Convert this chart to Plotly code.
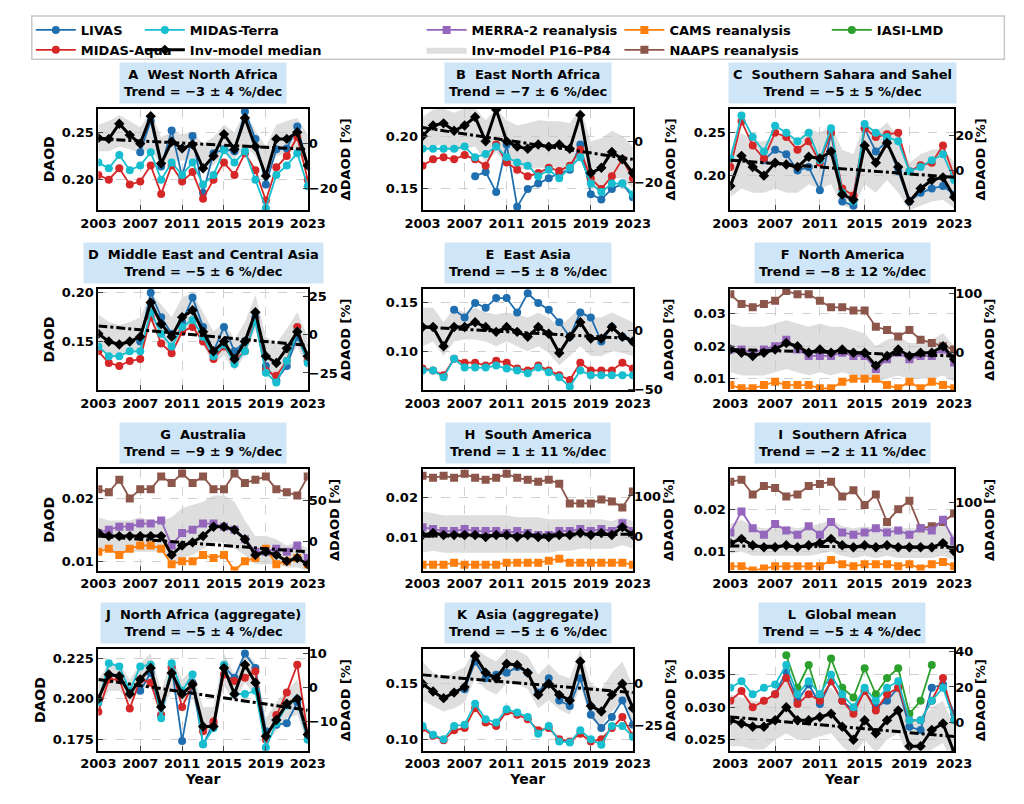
import plotly.graph_objects as go

years = list(range(2003, 2024))
N = None

panel_ids = ["A","B","C","D","E","F","G","H","I","J","K","L"]
panel_names = ["West North Africa","East North Africa","Southern Sahara and Sahel",
               "Middle East and Central Asia","East Asia","North America",
               "Australia","South America","Southern Africa",
               "North Africa (aggregate)","Asia (aggregate)","Global mean"]
trend_text = ["−3 ± 4","−7 ± 6","−5 ± 5","−5 ± 6","−5 ± 8","−8 ± 12",
              "−9 ± 9","1 ± 11","−2 ± 11","−5 ± 4","−5 ± 6","−5 ± 4"]

median = {
 "A":[.244,.243,.259,.247,.238,.267,.217,.240,.233,.237,.212,.225,.248,.232,.265,.235,.204,.243,.243,.250,.215],
 "B":[.200,.210,.212,.205,.210,.218,.195,.225,.195,.190,.188,.192,.190,.192,.188,.220,.165,.170,.185,.178,.165],
 "C":[.188,.223,.210,.200,.215,.213,.210,.222,.220,.228,.178,.172,.235,.215,.238,.210,.170,.185,.195,.198,.175],
 "D":[.158,.150,.147,.150,.155,.190,.168,.155,.175,.182,.160,.140,.150,.132,.150,.180,.135,.128,.143,.160,.135],
 "E":[.125,.125,.105,.125,.125,.130,.125,.120,.125,.120,.115,.125,.118,.098,.115,.130,.113,.113,.125,.115,.110],
 "F":[.019,.018,.017,.018,.019,.021,.020,.018,.019,.018,.019,.018,.018,.014,.017,.019,.017,.018,.018,.020,.016],
 "G":[.0145,.014,.014,.014,.014,.014,.014,.011,.0125,.013,.014,.0155,.0155,.015,.0135,.011,.0115,.011,.010,.0105,.0095],
 "H":[.0105,.011,.0105,.0105,.0105,.0105,.010,.0105,.0105,.010,.0105,.010,.010,.0105,.0105,.011,.0105,.011,.0105,.0125,.0105],
 "I":[.012,.013,.0115,.011,.011,.0115,.011,.0115,.012,.013,.0115,.011,.0115,.011,.0115,.011,.011,.011,.011,.012,.010],
 "J":[.200,.215,.214,.203,.212,.219,.195,.216,.203,.209,.183,.183,.219,.203,.221,.210,.177,.187,.197,.200,.178],
 "K":[.150,.143,.137,.142,.147,.175,.160,.155,.168,.167,.160,.140,.150,.140,.135,.170,.130,.125,.140,.150,.128],
 "L":[.028,.0275,.027,.027,.028,.030,.028,.028,.0285,.029,.027,.025,.028,.026,.028,.0295,.024,.024,.0265,.0275,.023],
}
band_lo = {
 "A":[.230,.230,.235,.232,.228,.232,.215,.220,.220,.222,.210,.215,.228,.222,.235,.225,.205,.225,.228,.232,.215],
 "B":[.185,.190,.192,.185,.188,.190,.175,.185,.172,.170,.168,.170,.170,.170,.168,.180,.150,.152,.160,.160,.150],
 "C":[.175,.185,.180,.180,.185,.180,.180,.190,.185,.190,.165,.162,.190,.180,.195,.180,.160,.165,.170,.172,.162],
 "D":[.143,.137,.135,.137,.141,.170,.152,.141,.158,.165,.146,.127,.136,.120,.136,.162,.122,.115,.129,.145,.122],
 "E":[.105,.110,.095,.110,.112,.112,.110,.105,.110,.105,.100,.105,.098,.085,.095,.105,.095,.095,.100,.098,.095],
 "F":[.012,.011,.011,.011,.012,.013,.012,.011,.012,.011,.012,.011,.010,.009,.010,.011,.010,.010,.010,.011,.009],
 "G":[.012,.0115,.0115,.0115,.0115,.0115,.0115,.0095,.0105,.011,.012,.013,.013,.012,.011,.0095,.0095,.0095,.009,.009,.0085],
 "H":[.006,.0065,.006,.006,.006,.006,.006,.006,.006,.006,.006,.006,.006,.0065,.0065,.007,.007,.007,.007,.008,.007],
 "I":[.0095,.010,.009,.009,.009,.009,.009,.009,.0095,.010,.009,.0085,.009,.0085,.009,.0085,.0085,.0085,.0085,.009,.008],
 "J":[.195,.205,.205,.198,.205,.208,.192,.205,.198,.200,.180,.180,.208,.198,.210,.202,.172,.180,.188,.190,.172],
 "K":[.135,.130,.125,.128,.133,.155,.145,.140,.150,.150,.145,.128,.135,.127,.122,.148,.118,.112,.125,.135,.115],
 "L":[.024,.024,.0235,.0235,.025,.026,.025,.025,.0255,.026,.024,.0225,.025,.023,.025,.026,.022,.021,.0235,.0245,.021],
}
band_hi = {
 "A":[.258,.262,.268,.262,.255,.272,.245,.250,.248,.250,.238,.245,.258,.250,.272,.252,.235,.258,.262,.265,.248],
 "B":[.218,.225,.226,.222,.226,.226,.215,.226,.215,.210,.212,.215,.214,.214,.212,.226,.195,.198,.205,.200,.190],
 "C":[.230,.250,.240,.240,.245,.248,.240,.255,.250,.258,.230,.225,.262,.250,.262,.245,.215,.225,.230,.232,.215],
 "D":[.178,.170,.167,.170,.175,.200,.188,.175,.195,.200,.180,.160,.170,.152,.170,.198,.155,.148,.163,.180,.155],
 "E":[.145,.145,.130,.145,.140,.145,.140,.138,.140,.138,.135,.140,.135,.125,.135,.145,.135,.135,.140,.135,.130],
 "F":[.027,.026,.026,.026,.027,.028,.027,.026,.027,.026,.026,.025,.024,.020,.022,.023,.021,.021,.022,.024,.020],
 "G":[.017,.0165,.0165,.0165,.017,.0165,.0165,.017,.0185,.019,.0195,.0205,.0205,.0195,.0165,.014,.014,.0135,.0125,.013,.012],
 "H":[.0165,.016,.0155,.0155,.0155,.0155,.0155,.0155,.0155,.015,.015,.015,.0145,.0145,.0145,.0145,.0145,.0145,.014,.015,.014],
 "I":[.0165,.0175,.016,.0155,.0155,.016,.0155,.016,.0165,.0175,.016,.0155,.016,.0155,.016,.0155,.0155,.0155,.0155,.0165,.014],
 "J":[.212,.222,.222,.212,.222,.228,.205,.225,.212,.218,.195,.195,.228,.215,.230,.222,.188,.198,.205,.212,.190],
 "K":[.170,.160,.155,.160,.165,.182,.175,.170,.181,.180,.175,.158,.168,.158,.155,.181,.150,.145,.160,.170,.148],
 "L":[.032,.0315,.031,.031,.032,.034,.032,.032,.0325,.033,.031,.029,.032,.030,.032,.0335,.028,.028,.030,.031,.027],
}
livas = {
 "A":[N,N,N,N,.229,.262,.214,.252,.203,.246,.186,.228,.232,.230,.272,.243,.195,.232,.233,.256,.215],
 "B":[N,N,N,N,N,.162,.166,.147,.192,.133,.150,.155,.160,.165,.168,.192,.145,.140,.150,.155,.142],
 "C":[N,N,N,.218,.230,.225,.206,.210,.183,.250,.170,.165,.255,.228,.240,.205,.170,.180,.185,.188,.178],
 "D":[N,N,N,N,.150,.200,.175,.158,.170,.195,.165,.140,.165,.140,.150,.175,.125,.110,.125,.155,.130],
 "E":[N,N,N,.143,.135,.150,.145,.155,.155,.140,.160,.150,.143,.130,.115,.140,.135,.110,.125,.115,.110],
 "J":[N,N,N,N,.205,.216,.190,.220,.174,.210,.172,.185,.220,.213,.228,.219,.180,.184,.185,.198,.175],
 "K":[N,N,N,N,.145,.170,.155,.158,.160,.165,.160,.142,.155,.135,.130,.155,.122,.110,.120,.135,.113],
 "L":[N,N,N,N,.032,.0355,.031,.0335,.0305,.034,.031,.0295,.0325,.030,.031,.033,.027,.0265,.033,.0335,.029],
}
midas_aqua = {
 "A":[.205,.200,.212,.195,.198,.215,.185,.215,.198,.208,.180,.200,.218,.205,.228,.210,.178,.213,.225,.245,.200],
 "B":[.172,.178,.180,.178,.182,.178,.172,.192,.175,.168,.162,.165,.170,.167,.172,.187,.160,.150,.162,.178,.160],
 "C":[.210,.263,.235,.220,.250,.245,.230,.240,.215,.250,.185,.177,.255,.245,.248,.250,.205,.212,.215,.235,.200],
 "D":[.140,.128,.125,.130,.132,.175,.148,.138,.160,.165,.150,.132,.145,.130,.140,.172,.120,.115,.130,.165,.130],
 "E":[.082,.080,.075,.092,.088,.088,.085,.090,.088,.082,.080,.085,.080,.075,.070,.088,.080,.080,.080,.088,.082],
 "J":[.192,.212,.212,.194,.212,.210,.190,.219,.195,.209,.180,.186,.215,.211,.213,.217,.175,.190,.204,.221,.178],
 "K":[.110,.103,.099,.108,.110,.128,.115,.112,.125,.122,.118,.108,.110,.100,.098,.105,.098,.100,.110,.120,.103],
 "L":[.031,.0325,.030,.031,.032,.0345,.0305,.032,.031,.034,.031,.029,.0325,.0295,.032,.033,.028,.028,.031,.0345,.028],
}
midas_terra = {
 "A":[.218,.212,.226,.210,.215,.229,.200,.218,.205,.218,.195,.205,.231,.218,.230,.200,.170,.205,.215,.228,.193],
 "B":[.188,.188,.188,.188,.190,.180,.183,.190,.180,.175,.172,.162,.168,.160,.170,.180,.155,.147,.155,.155,.145],
 "C":[.220,.270,.245,.228,.258,.250,.240,.250,.218,.255,.180,.170,.260,.250,.245,.240,.205,.210,.218,.225,.195],
 "D":[.145,.135,.135,.140,.140,.180,.158,.145,.165,.172,.155,.135,.147,.127,.140,.170,.118,.108,.130,.160,.128],
 "E":[.080,.080,.073,.092,.083,.083,.083,.085,.082,.080,.077,.083,.078,.073,.063,.080,.075,.075,.075,.075,.075],
 "J":[.198,.222,.220,.205,.220,.221,.188,.222,.205,.215,.172,.182,.221,.203,.203,.205,.170,.185,.196,.200,.175],
 "K":[.112,.104,.100,.112,.113,.132,.118,.115,.127,.124,.120,.105,.112,.098,.097,.108,.100,.095,.112,.112,.102],
 "L":[.033,.034,.032,.033,.0335,.0365,.032,.034,.032,.035,.032,.030,.033,.031,.033,.034,.028,.028,.031,.033,.028],
}
merra2 = {
 "F":[.019,.019,.018,.019,.020,.022,.019,.017,.017,.017,.018,.017,.017,.013,.016,.018,.016,.017,.017,.019,.015],
 "G":[.0145,.015,.0155,.0155,.016,.016,.0165,.0125,.0145,.015,.016,.016,.0155,.015,.0135,.0115,.0115,.012,.0115,.0125,.0105],
 "H":[.0125,.012,.0115,.0115,.012,.0115,.0115,.0115,.011,.0115,.011,.0105,.0105,.0115,.0115,.012,.0115,.012,.0115,.0135,.0115],
 "I":[.0145,.0195,.0155,.014,.0165,.015,.014,.016,.014,.017,.0145,.014,.0145,.0155,.0145,.015,.014,.0155,.015,.0175,.0125],
}
cams = {
 "F":[.008,.007,.007,.008,.009,.008,.008,.008,.007,.007,.009,.010,.010,.010,.008,.007,.009,.007,.009,.008,.007],
 "G":[.0115,.012,.011,.012,.0125,.0125,.012,.0095,.010,.010,.011,.0105,.011,.0085,.010,.0105,.012,.0095,.010,.0105,.0095],
 "H":[.003,.003,.003,.0035,.003,.003,.003,.003,.0035,.0035,.0035,.0035,.004,.0045,.0035,.0035,.0035,.0035,.0035,.0035,.003],
 "I":[.0065,.0065,.0055,.006,.0065,.0065,.0065,.0065,.0065,.008,.007,.0065,.007,.007,.007,.0065,.007,.006,.007,.0075,.0065],
}
naaps = {
 "F":[.036,.033,.032,.033,.034,.037,.036,.036,.034,.032,.032,.031,.031,.026,.025,.023,.025,.022,.021,.020,.019],
 "G":[.0215,.021,.023,.020,.0215,.0215,.0235,.0225,.024,.0225,.0235,.0215,.0215,.024,.0225,.023,.0235,.0215,.021,.0205,.0235],
 "H":[.0255,.025,.0255,.025,.026,.025,.0245,.025,.026,.025,.0245,.024,.0245,.0235,.0185,.0185,.0185,.0195,.019,.0175,.0215],
 "I":[.0265,.027,.0235,.0255,.025,.023,.0235,.0255,.026,.0265,.023,.0245,.021,.0235,.017,.020,.022,.0155,.016,.017,.019],
}
iasi = {
 "L":[N,N,N,N,N,.038,.033,.0365,.031,.0375,.033,.0315,.036,.032,.0345,.036,.029,.031,.0365,N,N],
}
trend_ends = {"A":[.243,.232],"B":[.208,.178],"C":[.218,.198],"D":[.166,.146],"E":[.125,.113],
              "F":[.019,.017],"G":[.014,.0115],"H":[.0102,.0107],"I":[.0113,.0110],
              "J":[.212,.193],"K":[.158,.142],"L":[.0285,.0255]}
trend_years = [2003, 2023]
ref_daod = {"A":.238,"B":.195,"C":.206,"D":.157,"E":.121,"F":.0182,"G":.0131,"H":.0102,
            "I":.0108,"J":.207,"K":.150,"L":.0276}
y_ranges = {"A":[.168,.275],"B":[.130,.226],"C":[.160,.278],"D":[.100,.204],"E":[.0594,.1646],
            "F":[.0064,.0377],"G":[.0085,.0247],"H":[.0015,.0272],"I":[.0055,.0295],
            "J":[.168,.2305],"K":[.0895,.181],"L":[.0233,.0389]}
left_ticks = {"A":[.20,.25],"B":[.15,.20],"C":[.20,.25],"D":[.15,.20],"E":[.10,.15],
              "F":[.01,.02,.03],"G":[.01,.02],"H":[.01,.02],"I":[.01,.02],
              "J":[.175,.2,.225],"K":[.10,.15],"L":[.025,.03,.035]}
left_fmt = {"J":".3f","L":".3f"}
right_ticks = {"A":[-20,0],"B":[-20,0],"C":[0,20],"D":[-25,0,25],"E":[-50,0],"F":[0,100],
               "G":[0,50],"H":[0,100],"I":[0,100],"J":[-10,0,10],"K":[-25,0],"L":[0,20,40]}

C_LIVAS, C_AQUA, C_TERRA = "#1f6fb0", "#d62728", "#17becf"
C_MERRA, C_CAMS, C_NAAPS, C_IASI = "#9467bd", "#ff7f0e", "#8c564b", "#2ca02c"
FONT = "DejaVu Sans"
RANK = {"LIVAS":1, "MIDAS-Aqua":2, "MIDAS-Terra":3, "Inv-model median":4,
        "Inv-model P16–P84":5, "MERRA-2 reanalysis":6, "CAMS reanalysis":7,
        "NAAPS reanalysis":8, "IASI-LMD":9}

W, H = 1024, 804
col_x = [(75, 292), (411, 629), (730, 962)]
row_top = [96, 279, 462, 645]
PH = 103

fig = go.Figure()
layout = {}
shown = set()
annotations = []

def leg(name, group):
    first = name not in shown
    shown.add(name)
    return dict(name=name, showlegend=first, legend=group, legendrank=RANK[name])

for i, pid in enumerate(panel_ids):
    r, c = divmod(i, 3)
    n = i + 1
    xa = "x" if n == 1 else f"x{n}"
    ya = "y" if n == 1 else f"y{n}"
    ya2 = f"y{n+12}"
    x0, x1 = col_x[c]
    y0 = 1 - (row_top[r] + PH) / H
    y1 = 1 - row_top[r] / H
    yr = y_ranges[pid]
    ref = ref_daod[pid]
    fig.add_trace(go.Scatter(x=years, y=band_lo[pid], mode="lines", line=dict(width=0),
                             showlegend=False, hoverinfo="skip", xaxis=xa, yaxis=ya))
    fig.add_trace(go.Scatter(x=years, y=band_hi[pid], mode="lines", line=dict(width=0),
                             fill="tonexty", fillcolor="rgba(200,200,200,0.6)",
                             xaxis=xa, yaxis=ya, **leg("Inv-model P16–P84", "legend3")))
    def obs(d, nm, col, sym, lg):
        if pid in d:
            fig.add_trace(go.Scatter(x=years, y=d[pid], mode="lines+markers",
                                     line=dict(color=col, width=1.8),
                                     marker=dict(color=col, size=8, symbol=sym),
                                     xaxis=xa, yaxis=ya, **leg(nm, lg)))
    obs(naaps, "NAAPS reanalysis", C_NAAPS, "square", "legend4")
    obs(cams, "CAMS reanalysis", C_CAMS, "square", "legend4")
    obs(merra2, "MERRA-2 reanalysis", C_MERRA, "square", "legend3")
    obs(iasi, "IASI-LMD", C_IASI, "circle", "legend5")
    obs(livas, "LIVAS", C_LIVAS, "circle", "legend")
    obs(midas_aqua, "MIDAS-Aqua", C_AQUA, "circle", "legend")
    obs(midas_terra, "MIDAS-Terra", C_TERRA, "circle", "legend2")
    fig.add_trace(go.Scatter(x=trend_years, y=trend_ends[pid], mode="lines",
                             line=dict(color="black", width=3, dash="dashdot"),
                             showlegend=False, xaxis=xa, yaxis=ya))
    fig.add_trace(go.Scatter(x=years, y=median[pid], mode="lines+markers",
                             line=dict(color="black", width=3),
                             marker=dict(color="black", size=8, symbol="diamond"),
                             xaxis=xa, yaxis=ya, **leg("Inv-model median", "legend2")))
    # median expressed as anomaly (%) on the right axis (invisible, keeps axis alive)
    fig.add_trace(go.Scatter(x=years, y=[(v / ref - 1) * 100 for v in median[pid]],
                             mode="lines", line=dict(width=0), opacity=0, showlegend=False,
                             hoverinfo="skip", xaxis=xa, yaxis=ya2))
    tickf = dict(family=FONT, size=13, color="black", weight="bold")
    titf = dict(family=FONT, size=14, color="black")
    kx = "xaxis" if n == 1 else f"xaxis{n}"
    ky = "yaxis" if n == 1 else f"yaxis{n}"
    layout[kx] = dict(domain=[x0 / W, x1 / W], anchor=ya, range=[2003, 2023],
                      tickvals=list(range(2003, 2024, 4)), showline=True, linewidth=2,
                      linecolor="black", mirror=True, ticks="inside", ticklen=5,
                      showgrid=True, gridcolor="#d0d0d0", griddash="dash",
                      zeroline=False, tickfont=tickf,
                      title=dict(text="<b>Year</b>", font=titf, standoff=2) if r == 3 else None)
    layout[ky] = dict(domain=[y0, y1], anchor=xa, range=yr, tickvals=left_ticks[pid],
                      tickformat=left_fmt.get(pid, ".2f"), showline=True, linewidth=2,
                      linecolor="black", mirror=True, ticks="inside", ticklen=5,
                      showgrid=True, gridcolor="#d0d0d0", griddash="dash",
                      zeroline=False, tickfont=tickf,
                      title=dict(text="<b>DAOD</b>", font=titf, standoff=4) if c == 0 else None)
    layout[f"yaxis{n+12}"] = dict(overlaying=ya, anchor=xa, side="right",
                                  range=[(yr[0] / ref - 1) * 100, (yr[1] / ref - 1) * 100],
                                  tickvals=right_ticks[pid], ticks="inside", ticklen=5,
                                  showgrid=False, zeroline=False, showline=False, tickfont=tickf,
                                  title=dict(text="<b>ΔDAOD [%]</b>",
                                             font=dict(family=FONT, size=13, color="black"),
                                             standoff=2))
    annotations.append(dict(xref="paper", yref="paper", x=(x0 + x1) / 2 / W,
                            y=1 - (row_top[r] - 5) / H, xanchor="center", yanchor="bottom",
                            text=f"<b>{pid}  {panel_names[i]}<br>Trend = {trend_text[i]} %/dec</b>",
                            showarrow=False, bgcolor="#cfe6f8", borderpad=4,
                            font=dict(family=FONT, size=13, color="black")))

legend_style = dict(font=dict(family=FONT, size=13, color="black", weight="bold"),
                    bgcolor="rgba(0,0,0,0)", orientation="v", yanchor="top",
                    tracegroupgap=0, itemwidth=40)
for key, xp in [("legend", 5), ("legend2", 118), ("legend3", 410), ("legend4", 615), ("legend5", 830)]:
    layout[key] = dict(x=xp / W, y=1 - 1 / H, xanchor="left", **legend_style)

fig.update_layout(width=W, height=H, margin=dict(l=0, r=0, t=0, b=0),
                  plot_bgcolor="white", paper_bgcolor="white",
                  annotations=annotations,
                  shapes=[dict(type="rect", xref="paper", yref="paper",
                               x0=6 / W, x1=1014 / W, y0=1 - 46 / H, y1=1 - 2 / H,
                               line=dict(color="#c8c8c8", width=1.5))],
                  **layout)
fig.write_html("out.html")
